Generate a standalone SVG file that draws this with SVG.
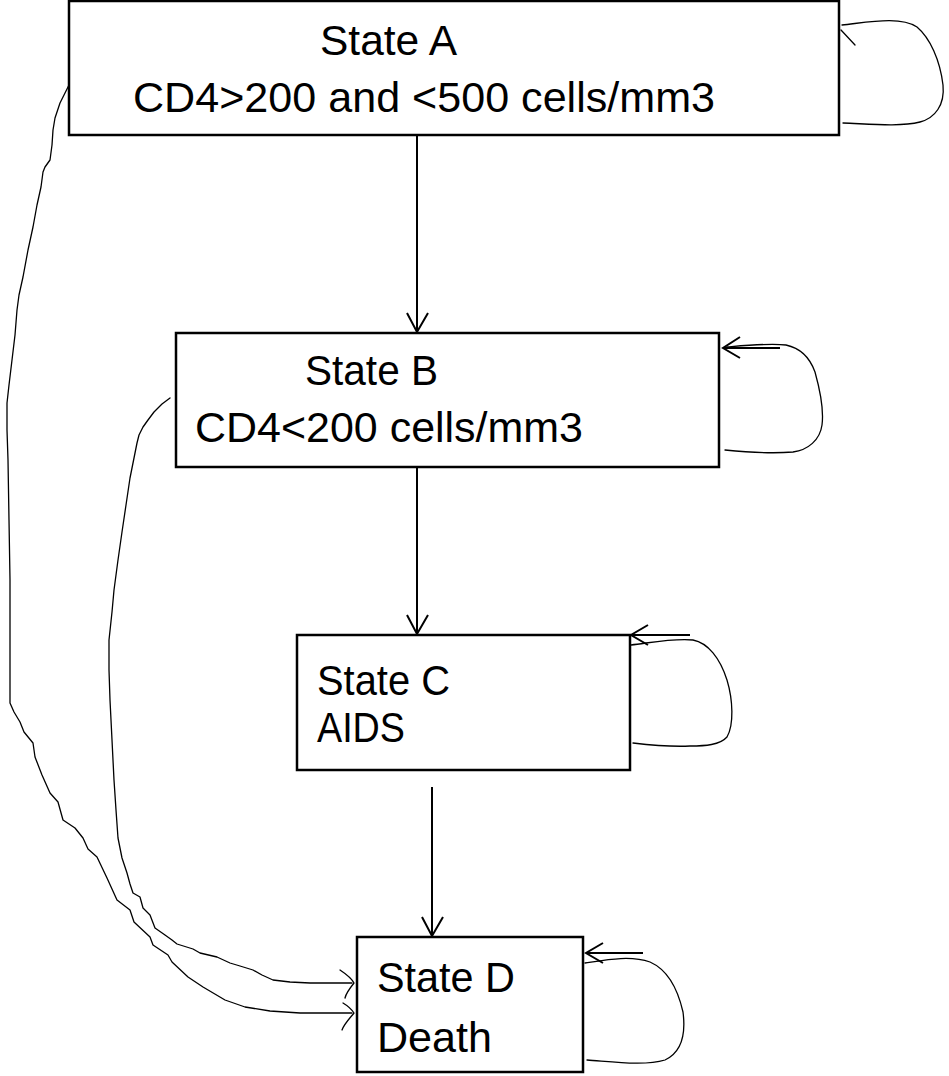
<svg xmlns="http://www.w3.org/2000/svg" width="949" height="1076" viewBox="0 0 949 1076">
<style>
.box{fill:#fff;stroke:#000;stroke-width:2.5}
.t{font-family:"Liberation Sans",Arial,sans-serif;font-size:42px;fill:#000}
.arr{fill:none;stroke:#000;stroke-width:2}
.thin{fill:none;stroke:#000;stroke-width:1.3;stroke-linejoin:round;stroke-linecap:round}
</style>
<rect width="949" height="1076" fill="#fff"/>
<g id="connectors">
  <!-- A -> B -->
  <line class="arr" x1="417" y1="135" x2="417" y2="332"/>
  <polyline class="arr" points="407,313 417,332 428,313"/>
  <!-- B -> C -->
  <line class="arr" x1="417" y1="467" x2="417" y2="634"/>
  <polyline class="arr" points="407,615 417,634 428,615"/>
  <!-- C -> D -->
  <line class="arr" x1="432" y1="787" x2="432" y2="936"/>
  <polyline class="arr" points="422,917 432,936 443,917"/>
  <!-- A self loop -->
  <path class="thin" d="M842,25 C870,22 900,16 917,27 C930,38 940,60 943,85 C945,105 935,118 920,122 C900,127 870,124 843,123"/>
  <line class="thin" x1="841" y1="30" x2="855" y2="45"/>
  <!-- B self loop -->
  <path class="thin" d="M727,347 C750,345 770,343 786,345 C800,348 810,358 815,372 C820,390 824,410 822,425 C820,440 808,450 793,452 C770,454 745,452 725,450"/>
  <line class="arr" x1="780" y1="348" x2="723" y2="348"/>
  <polyline class="arr" points="740,337 723,348 740,358"/>
  <!-- C self loop -->
  <path class="thin" d="M631,645 C655,642 675,638 693,640 C708,643 720,658 727,680 C733,700 734,725 727,737 C720,745 705,746 690,746 C670,747 650,745 633,743"/>
  <line class="arr" x1="690" y1="635" x2="631" y2="635"/>
  <polyline class="arr" points="648,625 631,635 648,645"/>
  <!-- D self loop -->
  <path class="thin" d="M585,963 C605,960 630,955 650,962 C668,970 678,990 683,1012 C686,1035 682,1052 665,1060 C645,1066 615,1062 587,1060"/>
  <line class="arr" x1="643" y1="953" x2="586" y2="953"/>
  <polyline class="arr" points="603,943 586,953 603,963"/>
  <!-- A -> D (outer) -->
  <path class="thin" d="M69,85 L64,95 L60,103 L55,118 L53,130 L52,145 L50,160 L45,167 L43,172 L41,187 L37,205 L33,227 L28,250 L23,277 L19,295 L17,310 L15,335 L12,360 L9,385 L7,403 L7,430 L8,460 L9,520 L10,580 L10,640 L10,703 L14,712 L20,722 L24,732 L33,743 L35,757 L42,775 L50,793 L58,802 L63,820 L75,828 L83,838 L88,849 L97,857 L107,878 L117,900 L130,910 L134,922 L150,937 L153,945 L168,955 L172,962 L188,977 L203,987 L225,1000 L245,1007 L270,1011 L300,1013 L352,1013"/>
  <path class="thin" d="M343,1003 C348,1006 352,1010 354,1013 C350,1018 344,1024 342,1030"/>
  <!-- B -> D (inner) -->
  <path class="thin" d="M170,398 L162,404 L154,412 L148,420 L143,427 L139,435 L137,443 L134,458 L130,478 L126,505 L122,532 L118,560 L114,590 L112,612 L109,640 L109,670 L110,700 L112,740 L114,780 L116,810 L118,838 L122,858 L127,873 L130,884 L133,893 L140,897 L143,908 L150,915 L155,928 L165,935 L172,940 L177,944 L193,949 L200,953 L217,957 L230,963 L240,966 L253,970 L262,975 L273,980 L290,982 L310,983 L352,983"/>
  <path class="thin" d="M340,970 C346,974 352,979 354,983 C350,988 346,993 345,998"/>
</g>
<g id="stateA">
  <rect class="box" x="69" y="1" width="770" height="134"/>
  <text class="t" x="320" y="55" textLength="137" lengthAdjust="spacingAndGlyphs">State A</text>
  <text class="t" x="133" y="112" textLength="582" lengthAdjust="spacingAndGlyphs">CD4&gt;200 and &lt;500 cells/mm3</text>
</g>
<g id="stateB">
  <rect class="box" x="176" y="333" width="543" height="134"/>
  <text class="t" x="305" y="385" textLength="133" lengthAdjust="spacingAndGlyphs">State B</text>
  <text class="t" x="195" y="442" textLength="388" lengthAdjust="spacingAndGlyphs">CD4&lt;200 cells/mm3</text>
</g>
<g id="stateC">
  <rect class="box" x="297" y="635" width="333" height="135"/>
  <text class="t" x="317" y="695" textLength="133" lengthAdjust="spacingAndGlyphs">State C</text>
  <text class="t" x="317" y="742" textLength="88" lengthAdjust="spacingAndGlyphs">AIDS</text>
</g>
<g id="stateD">
  <rect class="box" x="357" y="937" width="226" height="135"/>
  <text class="t" x="377" y="992" textLength="138" lengthAdjust="spacingAndGlyphs">State D</text>
  <text class="t" x="377" y="1052" textLength="115" lengthAdjust="spacingAndGlyphs">Death</text>
</g>
</svg>
